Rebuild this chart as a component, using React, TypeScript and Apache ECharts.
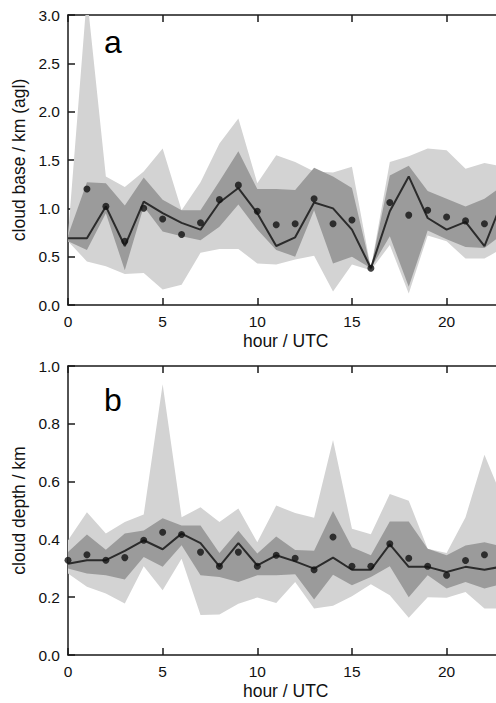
import React, { useEffect, useRef } from "react";
import * as echarts from "echarts";

const hours = ["0","1","2","3","4","5","6","7","8","9","10","11","12","13","14","15","16","17","18","19","20","21","22","23"];

// Panel a: cloud base (km agl)
const baseMedian = [0.69, 0.69, 1.02, 0.61, 1.07, 0.95, 0.85, 0.78, 1.06, 1.21, 0.95, 0.61, 0.70, 1.06, 1.00, 0.78, 0.38, 0.97, 1.33, 0.90, 0.78, 0.86, 0.61, 1.10];
const baseMean = [null, 1.20, 1.02, 0.66, 1.00, 0.89, 0.73, 0.85, 1.09, 1.24, 0.97, 0.83, 0.84, 1.10, 0.84, 0.88, 0.38, 1.06, 0.93, 0.98, 0.91, 0.87, 0.84, 0.90];
const baseQ75 = [0.72, 1.27, 1.26, 1.03, 1.32, 1.09, 0.98, 0.98, 1.28, 1.59, 1.20, 1.20, 1.19, 1.42, 1.33, 1.21, 0.38, 1.34, 1.44, 1.18, 1.10, 1.02, 1.10, 1.24];
const baseQ25 = [0.66, 0.57, 0.95, 0.36, 1.02, 0.76, 0.71, 0.67, 0.81, 1.04, 0.78, 0.57, 0.50, 0.98, 0.43, 0.50, 0.38, 0.71, 0.19, 0.77, 0.68, 0.60, 0.59, 0.74];
const baseMax = [0.72, 3.2, 1.33, 1.22, 1.38, 1.62, 0.98, 1.27, 1.67, 1.93, 1.26, 1.55, 1.48, 1.38, 1.37, 1.43, 0.38, 1.48, 1.54, 1.62, 1.60, 1.41, 1.47, 1.43];
const baseMin = [0.66, 0.45, 0.40, 0.32, 0.33, 0.16, 0.21, 0.54, 0.58, 0.58, 0.43, 0.42, 0.47, 0.51, 0.14, 0.42, 0.36, 0.62, 0.12, 0.72, 0.66, 0.48, 0.48, 0.59];

// Panel b: cloud depth (km)
const depthMedian = [0.316, 0.328, 0.328, 0.36, 0.397, 0.366, 0.42, 0.387, 0.307, 0.387, 0.31, 0.345, 0.324, 0.299, 0.337, 0.295, 0.295, 0.383, 0.305, 0.305, 0.287, 0.305, 0.295, 0.307];
const depthMean = [0.328, 0.347, 0.328, 0.337, 0.397, 0.425, 0.417, 0.356, 0.307, 0.356, 0.307, 0.345, 0.335, 0.295, 0.408, 0.307, 0.307, 0.385, 0.335, 0.307, 0.276, 0.327, 0.347, 0.32];
const depthQ75 = [0.356, 0.417, 0.364, 0.42, 0.431, 0.473, 0.448, 0.448, 0.353, 0.43, 0.351, 0.41, 0.363, 0.361, 0.498, 0.373, 0.345, 0.462, 0.462, 0.368, 0.345, 0.379, 0.39, 0.375];
const depthQ25 = [0.299, 0.282, 0.276, 0.261, 0.339, 0.305, 0.38, 0.276, 0.27, 0.253, 0.276, 0.276, 0.279, 0.192, 0.278, 0.241, 0.27, 0.307, 0.2, 0.276, 0.23, 0.253, 0.23, 0.247];
const depthMax = [0.397, 0.494, 0.42, 0.46, 0.486, 0.937, 0.477, 0.511, 0.46, 0.507, 0.39, 0.517, 0.491, 0.475, 0.744, 0.437, 0.418, 0.557, 0.534, 0.368, 0.353, 0.477, 0.693, 0.534];
const depthMin = [0.282, 0.236, 0.213, 0.178, 0.307, 0.224, 0.333, 0.138, 0.14, 0.177, 0.199, 0.18, 0.253, 0.161, 0.17, 0.203, 0.245, 0.207, 0.129, 0.2, 0.198, 0.218, 0.161, 0.161];

const FONT = "'Liberation Sans', Arial, Helvetica, sans-serif";
const AXIS_COLOR = "#1a1a1a";
const LIGHT = "#d3d3d3";
const DARK = "#9b9b9b";

function diff(a: number[], b: number[]) {
  return a.map((v, i) => +(v - b[i]).toFixed(4));
}

function bandSeries(idx: number, lower: number[], upper: number[], color: string, key: string) {
  return [
    {
      type: "line",
      xAxisIndex: idx * 2,
      yAxisIndex: idx,
      stack: key,
      data: lower,
      showSymbol: false,
      symbol: "none",
      lineStyle: { width: 0, opacity: 0 },
      silent: true,
    },
    {
      type: "line",
      xAxisIndex: idx * 2,
      yAxisIndex: idx,
      stack: key,
      data: diff(upper, lower),
      showSymbol: false,
      symbol: "none",
      lineStyle: { width: 0, opacity: 0 },
      areaStyle: { color, opacity: 1 },
      silent: true,
    },
  ];
}

function panelSeries(idx: number, med: number[], mean: (number | null)[], q25: number[], q75: number[], mn: number[], mx: number[]) {
  return [
    ...bandSeries(idx, mn, mx, LIGHT, "light" + idx),
    ...bandSeries(idx, q25, q75, DARK, "dark" + idx),
    {
      type: "line",
      xAxisIndex: idx * 2,
      yAxisIndex: idx,
      data: med,
      showSymbol: false,
      symbol: "none",
      lineStyle: { color: "#2b2b2b", width: 2 },
      z: 5,
    },
    {
      type: "scatter",
      xAxisIndex: idx * 2,
      yAxisIndex: idx,
      data: mean.map((v) => (v === null ? "-" : v)),
      symbol: "circle",
      symbolSize: 7,
      itemStyle: { color: "#111" },
      z: 6,
    },
  ];
}

function xAxes(gridIndex: number) {
  const common = {
    type: "category",
    data: hours,
    gridIndex,
    boundaryGap: false,
    axisLine: { show: true, onZero: false, lineStyle: { color: AXIS_COLOR, width: 1.5 } },
    axisTick: { show: true, inside: true, length: 7, interval: 4, alignWithLabel: true, lineStyle: { color: AXIS_COLOR, width: 1.5 } },
    splitLine: { show: false },
  };
  return [
    {
      ...common,
      position: "bottom",
      name: "hour / UTC",
      nameLocation: "middle",
      nameGap: 27,
      nameTextStyle: { fontFamily: FONT, fontSize: 17.5, color: "#111" },
      axisLabel: { show: true, interval: 4, margin: 8, fontFamily: FONT, fontSize: 15.5, color: "#111" },
    },
    {
      ...common,
      position: "top",
      axisLabel: { show: false },
    },
  ];
}

function yAxis(gridIndex: number, name: string, max: number, interval: number) {
  return {
    type: "value",
    gridIndex,
    min: 0,
    max,
    interval,
    name,
    nameLocation: "middle",
    nameGap: 35,
    nameTextStyle: { fontFamily: FONT, fontSize: 17.5, color: "#111" },
    axisLine: { show: true, onZero: false, lineStyle: { color: AXIS_COLOR, width: 1.5 } },
    axisTick: { show: true, inside: true, length: 7, lineStyle: { color: AXIS_COLOR, width: 1.5 } },
    splitLine: { show: false },
    axisLabel: {
      fontFamily: FONT,
      fontSize: 15.5,
      color: "#111",
      margin: 8,
      formatter: (v: number) => v.toFixed(1),
    },
  };
}

export default function App() {
  const ref = useRef<HTMLDivElement>(null);
  useEffect(() => {
    if (!ref.current) return;
    const chart = echarts.init(ref.current, undefined, { renderer: "svg" });
    const plotW = 23 * 18.93;
    chart.setOption({
      animation: false,
      backgroundColor: "#ffffff",
      grid: [
        { left: 68, top: 15, width: plotW, height: 290 },
        { left: 68, top: 366, width: plotW, height: 289 },
      ],
      xAxis: [...xAxes(0), ...xAxes(1)],
      yAxis: [
        yAxis(0, "cloud base / km (agl)", 3, 0.5),
        yAxis(1, "cloud depth / km", 1, 0.2),
      ],
      series: [
        ...panelSeries(0, baseMedian, baseMean, baseQ25, baseQ75, baseMin, baseMax),
        ...panelSeries(1, depthMedian, depthMean, depthQ25, depthQ75, depthMin, depthMax),
      ],
      graphic: [
        { type: "text", left: 104, top: 26, z: 10, style: { text: "a", fontFamily: FONT, fontSize: 32, fill: "#000" } },
        { type: "text", left: 104, top: 384, z: 10, style: { text: "b", fontFamily: FONT, fontSize: 32, fill: "#000" } },
      ],
    });
    return () => chart.dispose();
  }, []);
  return (
    <div style={{ position: "absolute", left: 0, top: 0, width: 496, height: 703, overflow: "hidden", background: "#fff" }}>
      <div ref={ref} style={{ width: 530, height: 703 }} />
    </div>
  );
}
